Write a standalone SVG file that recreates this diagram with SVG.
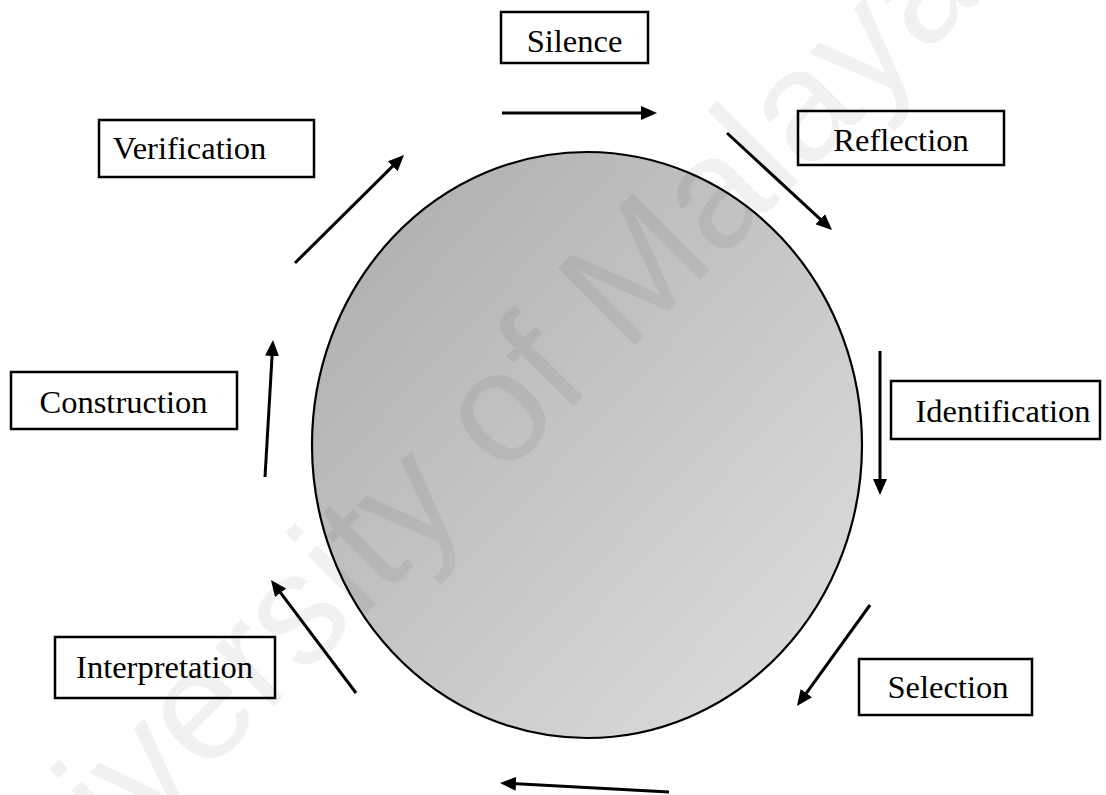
<svg xmlns="http://www.w3.org/2000/svg" width="1106" height="795" viewBox="0 0 1106 795">
  <defs>
    <linearGradient id="discFill" x1="0" y1="0" x2="1" y2="1">
      <stop offset="0" stop-color="#ababab"/>
      <stop offset="1" stop-color="#e0e0e0"/>
    </linearGradient>
    <marker id="head" markerUnits="userSpaceOnUse" markerWidth="16" markerHeight="14" refX="4" refY="7" orient="auto">
      <path d="M0,0 L16,7 L0,14 z" fill="#000"/>
    </marker>
    <style>
      .box { fill: none; stroke: #000; stroke-width: 2.5; }
      .label { font-family: "Liberation Serif", "Times New Roman", serif; font-size: 32.5px; fill: #000; text-anchor: middle; }
      .flow { fill: none; stroke: #000; stroke-width: 3; marker-end: url(#head); }
      .mark { font-family: "Liberation Sans", Arial, sans-serif; font-size: 158px; fill: #000; fill-opacity: 0.055; }
    </style>
  </defs>

  <rect width="1106" height="795" fill="#fff"/>

  <!-- central disc -->
  <g id="disc">
    <ellipse cx="587" cy="445" rx="275" ry="293" fill="url(#discFill)" stroke="#000" stroke-width="2.2"/>
  </g>

  <!-- faint diagonal watermark -->
  <text class="mark" transform="translate(-20 1000) rotate(-45)">University of Malaya</text>

  <g id="connectors">
    <path class="flow" d="M502,113 L645,113"/>
    <path class="flow" d="M727,133 L823.2,221.9"/>
    <path class="flow" d="M880,351 L880,483"/>
    <path class="flow" d="M870,605 L804,696.3"/>
    <path class="flow" d="M669,792 L512,783.6"/>
    <path class="flow" d="M356,693 L278.2,589.6"/>
    <path class="flow" d="M265,477 L272.3,352"/>
    <path class="flow" d="M295,263 L395.5,163.4"/>
  </g>

  <g id="silence">
    <rect class="box" x="501" y="12" width="147" height="51"/>
    <text class="label" x="574.5" y="52">Silence</text>
  </g>
  <g id="reflection">
    <rect class="box" x="798" y="111" width="206" height="54"/>
    <text class="label" x="901" y="151">Reflection</text>
  </g>
  <g id="identification">
    <rect class="box" x="891" y="381" width="209" height="58"/>
    <text class="label" x="1003" y="422">Identification</text>
  </g>
  <g id="selection">
    <rect class="box" x="859" y="659" width="173" height="56"/>
    <text class="label" x="948" y="698">Selection</text>
  </g>
  <g id="interpretation">
    <rect class="box" x="55" y="637" width="220" height="61"/>
    <text class="label" x="164.5" y="678">Interpretation</text>
  </g>
  <g id="construction">
    <rect class="box" x="11" y="372" width="226" height="57"/>
    <text class="label" x="123.5" y="413">Construction</text>
  </g>
  <g id="verification">
    <rect class="box" x="99" y="120" width="215" height="57"/>
    <text class="label" x="189.5" y="159">Verification</text>
  </g>
</svg>
